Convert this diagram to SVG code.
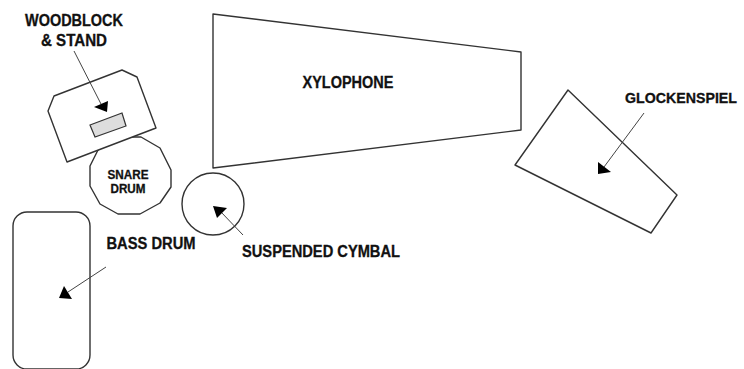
<svg xmlns="http://www.w3.org/2000/svg" width="744" height="369" viewBox="0 0 744 369">
<style>
.s{fill:#fff;stroke:#333;stroke-width:1.4;stroke-linejoin:round}
.c{stroke:#444;stroke-width:1;fill:none}
.h{fill:#000;stroke:none}
text{font-family:"Liberation Sans",Arial,sans-serif;font-weight:700;fill:#111;text-anchor:middle;stroke:#111;stroke-width:.3}
.l{font-size:16px}
.m{font-size:12px}
</style>
<rect width="744" height="369" fill="#fff"/>
<g id="snare-drum"><polygon class="s" points="116,137 141,137 160,148 171,170 171,187 160,203 140,214 118,214 100,204 90,186 90,166 98,150"/>
<text class="m" x="128" y="179" textLength="41" lengthAdjust="spacingAndGlyphs">SNARE</text><text class="m" x="128" y="193" textLength="35" lengthAdjust="spacingAndGlyphs">DRUM</text></g>
<g id="woodblock"><polygon class="s" points="54,96 122,70 137,77 156,128 67,162 48,111"/>
<polygon points="90,125 122,113 126,126 95,137" fill="#ddd" stroke="#333" stroke-width="1.2"/>
<text class="l" x="74" y="26" textLength="98" lengthAdjust="spacingAndGlyphs">WOODBLOCK</text><text class="l" x="74" y="46" textLength="66" lengthAdjust="spacingAndGlyphs">&amp; STAND</text></g>
<g id="xylophone"><polygon class="s" points="213,14 521,52 521,130 213,168"/>
<text class="l" x="348" y="88" textLength="91" lengthAdjust="spacingAndGlyphs">XYLOPHONE</text></g>
<g id="glockenspiel"><polygon class="s" points="568,90 677,195 651,233 515,165"/>
<text class="l" x="681" y="103" font-size="15" style="font-size:15px" textLength="112" lengthAdjust="spacingAndGlyphs">GLOCKENSPIEL</text></g>
<g id="suspended-cymbal"><circle class="s" cx="213" cy="204" r="31"/>
<text class="l" x="321" y="257" textLength="158" lengthAdjust="spacingAndGlyphs">SUSPENDED CYMBAL</text></g>
<g id="bass-drum"><rect class="s" x="13" y="212" width="77" height="157" rx="14"/>
<text class="l" x="151" y="249" textLength="89" lengthAdjust="spacingAndGlyphs">BASS DRUM</text></g>
<g id="connectors">
<path class="c" d="M74 51L101 104"/><polygon class="h" points="94,107 108,101 107,112"/>
<path class="c" d="M243 235L221 212"/><polygon class="h" points="213,206 227,208 217,218"/>
<path class="c" d="M106 267L68 292"/><polygon class="h" points="59,298 64,286 72,299"/>
<path class="c" d="M644 113L604 167"/><polygon class="h" points="598,174 598,162 611,172"/>
</g>
</svg>
